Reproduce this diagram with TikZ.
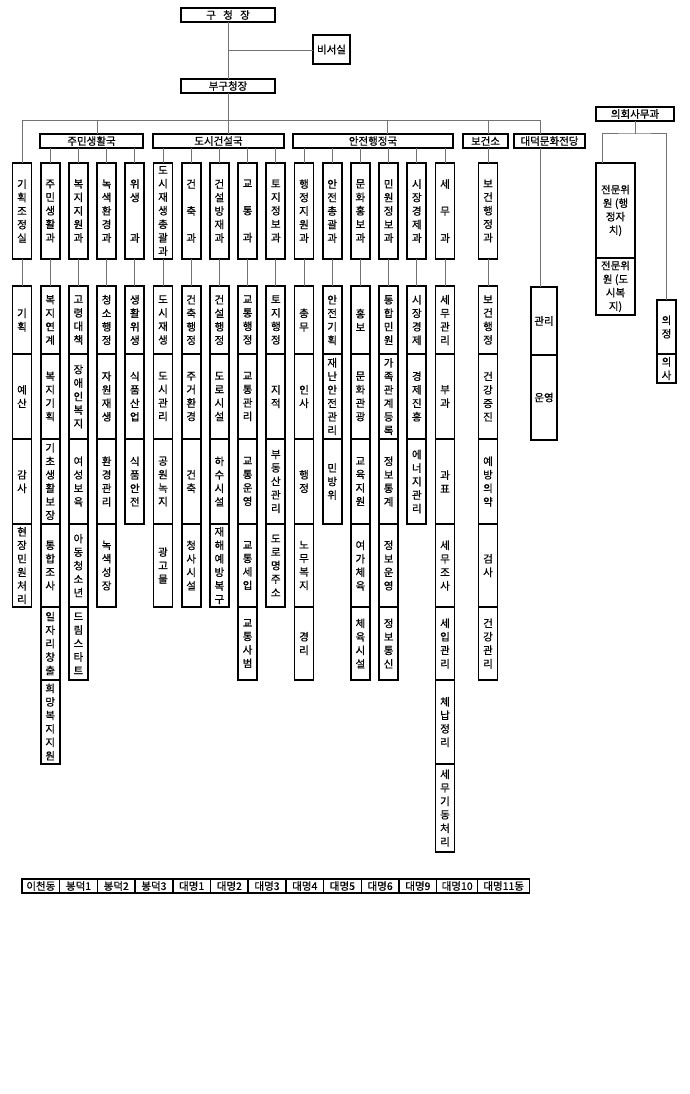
\documentclass[tikz,border=0pt]{standalone}
\usepackage{fontspec}
\newfontfamily\kr[FakeBold=0.7]{Noto Sans CJK KR}
\usetikzlibrary{positioning}
\tikzset{
  headbox/.style={draw, line width=1.7pt, fill=white, minimum height=14pt,
                  inner sep=0pt, outer sep=0pt, font=\kr\fontsize{10.5}{11}\selectfont},
  dept/.style={draw, line width=1.7pt, fill=white, minimum width=19pt, minimum height=96pt,
               anchor=north, inner sep=0pt, outer sep=0pt, align=center,
               font=\kr\fontsize{10.5}{13.5}\selectfont},
  team/.style={dept, minimum height=68pt},
  r2/.style={minimum height=85pt},
  r3/.style={minimum height=85pt},
  r4/.style={minimum height=83pt},
  r5/.style={minimum height=73pt},
  r6/.style={minimum height=84pt},
  r7/.style={minimum height=88pt},
  dong/.style={draw, line width=1.5pt, fill=white, minimum width=37.7pt, minimum height=14pt,
               inner sep=0pt, outer sep=0pt, font=\kr\fontsize{10.5}{11}\selectfont},
  conn/.style={draw=black!55, line width=1pt},
}
\begin{document}
\begin{tikzpicture}[x=1pt, y=-1pt]
  \path[use as bounding box, fill=white] (0,0) rectangle (690,1094);

  % top
  \node[headbox, minimum width=94pt] (chief) at (228,15) {구\hspace{0.7em}청\hspace{0.7em}장};
  \node[headbox, minimum width=37pt, minimum height=29pt] (secr) at (331.5,49.5) {비서실};
  \node[headbox, minimum width=94pt] (vice) at (228,86) {부구청장};
  \coordinate (secj) at (228,51);
  \draw[conn] (chief) -- (vice);
  \draw[conn] (secj) -- (secj -| secr.west);

  % bureaus
  \node[headbox, minimum width=103pt] (jumin) at (91.5,141) {주민생활국};
  \node[headbox, minimum width=131pt] (dosi) at (218.5,141) {도시건설국};
  \node[headbox, minimum width=160pt] (anjeon) at (373,141) {안전행정국};
  \node[headbox, minimum width=45pt] (bogeon) at (485.5,141) {보건소};
  \node[headbox, minimum width=71pt] (daedeok) at (549.5,141) {대덕문화전당};
  \node[headbox, minimum width=78pt] (uihoe) at (635,114) {의회사무과};

  % departments
  \node[dept] (d1) at (22,163) {기\\획\\조\\정\\실};
  \node[dept] (d2) at (50.2,163) {주\\민\\생\\활\\과};
  \node[dept] (d3) at (78.4,163) {복\\지\\지\\원\\과};
  \node[dept] (d4) at (106.6,163) {녹\\색\\환\\경\\과};
  \node[dept] (d5) at (134.8,163) {위\\생\\~\\~\\과};
  \node[dept] (d6) at (163,163) {도\\시\\재\\생\\총\\괄\\과};
  \node[dept] (d7) at (191.2,163) {건\\~\\축\\~\\과};
  \node[dept] (d8) at (219.4,163) {건\\설\\방\\재\\과};
  \node[dept] (d9) at (247.6,163) {교\\~\\통\\~\\과};
  \node[dept] (d10) at (275.8,163) {토\\지\\정\\보\\과};
  \node[dept] (d11) at (304,163) {행\\정\\지\\원\\과};
  \node[dept] (d12) at (332.2,163) {안\\전\\총\\괄\\과};
  \node[dept] (d13) at (360.4,163) {문\\화\\홍\\보\\과};
  \node[dept] (d14) at (388.6,163) {민\\원\\정\\보\\과};
  \node[dept] (d15) at (416.8,163) {시\\장\\경\\제\\과};
  \node[dept] (d16) at (445,163) {세\\~\\무\\~\\과};
  \node[dept] (d17) at (488,163) {보\\건\\행\\정\\과};

  % council office
  \node[dept, minimum width=39pt, minimum height=95pt] (jm1) at (615.5,163) {전문위\\원 (행\\정자\\치)};
  \node[dept, minimum width=39pt, minimum height=57pt, below=0pt of jm1] (jm2) {전문위\\원 (도\\시복\\지)};
  \node[dept, minimum height=54pt] (uijeong) at (666.5,300) {의\\정};
  \node[dept, minimum height=29pt, below=0pt of uijeong] (uisa) {의\\사};

  % teams
  \node[team] (t1a) at (22,286) {기\\획};
  \node[team, r2, below=0pt of t1a] (t1b) {예\\산};
  \node[team, r3, below=0pt of t1b] (t1c) {감\\사};
  \node[team, r4, below=0pt of t1c] (t1d) {현\\장\\민\\원\\처\\리};

  \node[team] (t2a) at (50.2,286) {복\\지\\연\\계};
  \node[team, r2, below=0pt of t2a] (t2b) {복\\지\\기\\획};
  \node[team, r3, below=0pt of t2b] (t2c) {기\\초\\생\\활\\보\\장};
  \node[team, r4, below=0pt of t2c] (t2d) {통\\합\\조\\사};
  \node[team, r5, below=0pt of t2d] (t2e) {일\\자\\리\\창\\출};
  \node[team, r6, below=0pt of t2e] (t2f) {희\\망\\복\\지\\지\\원};

  \node[team] (t3a) at (78.4,286) {고\\령\\대\\책};
  \node[team, r2, below=0pt of t3a] (t3b) {장\\애\\인\\복\\지};
  \node[team, r3, below=0pt of t3b] (t3c) {여\\성\\보\\육};
  \node[team, r4, below=0pt of t3c] (t3d) {아\\동\\청\\소\\년};
  \node[team, r5, below=0pt of t3d] (t3e) {드\\림\\스\\타\\트};

  \node[team] (t4a) at (106.6,286) {청\\소\\행\\정};
  \node[team, r2, below=0pt of t4a] (t4b) {자\\원\\재\\생};
  \node[team, r3, below=0pt of t4b] (t4c) {환\\경\\관\\리};
  \node[team, r4, below=0pt of t4c] (t4d) {녹\\색\\성\\장};

  \node[team] (t5a) at (134.8,286) {생\\활\\위\\생};
  \node[team, r2, below=0pt of t5a] (t5b) {식\\품\\산\\업};
  \node[team, r3, below=0pt of t5b] (t5c) {식\\품\\안\\전};

  \node[team] (t6a) at (163,286) {도\\시\\재\\생};
  \node[team, r2, below=0pt of t6a] (t6b) {도\\시\\관\\리};
  \node[team, r3, below=0pt of t6b] (t6c) {공\\원\\녹\\지};
  \node[team, r4, below=0pt of t6c] (t6d) {광\\고\\물};

  \node[team] (t7a) at (191.2,286) {건\\축\\행\\정};
  \node[team, r2, below=0pt of t7a] (t7b) {주\\거\\환\\경};
  \node[team, r3, below=0pt of t7b] (t7c) {건\\축};
  \node[team, r4, below=0pt of t7c] (t7d) {청\\사\\시\\설};

  \node[team] (t8a) at (219.4,286) {건\\설\\행\\정};
  \node[team, r2, below=0pt of t8a] (t8b) {도\\로\\시\\설};
  \node[team, r3, below=0pt of t8b] (t8c) {하\\수\\시\\설};
  \node[team, r4, below=0pt of t8c] (t8d) {재\\해\\예\\방\\복\\구};

  \node[team] (t9a) at (247.6,286) {교\\통\\행\\정};
  \node[team, r2, below=0pt of t9a] (t9b) {교\\통\\관\\리};
  \node[team, r3, below=0pt of t9b] (t9c) {교\\통\\운\\영};
  \node[team, r4, below=0pt of t9c] (t9d) {교\\통\\세\\입};
  \node[team, r5, below=0pt of t9d] (t9e) {교\\통\\사\\범};

  \node[team] (t10a) at (275.8,286) {토\\지\\행\\정};
  \node[team, r2, below=0pt of t10a] (t10b) {지\\적};
  \node[team, r3, below=0pt of t10b] (t10c) {부\\동\\산\\관\\리};
  \node[team, r4, below=0pt of t10c] (t10d) {도\\로\\명\\주\\소};

  \node[team] (t11a) at (304,286) {총\\무};
  \node[team, r2, below=0pt of t11a] (t11b) {인\\사};
  \node[team, r3, below=0pt of t11b] (t11c) {행\\정};
  \node[team, r4, below=0pt of t11c] (t11d) {노\\무\\복\\지};
  \node[team, r5, below=0pt of t11d] (t11e) {경\\리};

  \node[team] (t12a) at (332.2,286) {안\\전\\기\\획};
  \node[team, r2, below=0pt of t12a] (t12b) {재\\난\\안\\전\\관\\리};
  \node[team, r3, below=0pt of t12b] (t12c) {민\\방\\위};

  \node[team] (t13a) at (360.4,286) {홍\\보};
  \node[team, r2, below=0pt of t13a] (t13b) {문\\화\\관\\광};
  \node[team, r3, below=0pt of t13b] (t13c) {교\\육\\지\\원};
  \node[team, r4, below=0pt of t13c] (t13d) {여\\가\\체\\육};
  \node[team, r5, below=0pt of t13d] (t13e) {체\\육\\시\\설};

  \node[team] (t14a) at (388.6,286) {통\\합\\민\\원};
  \node[team, r2, below=0pt of t14a] (t14b) {가\\족\\관\\계\\등\\록};
  \node[team, r3, below=0pt of t14b] (t14c) {정\\보\\통\\계};
  \node[team, r4, below=0pt of t14c] (t14d) {정\\보\\운\\영};
  \node[team, r5, below=0pt of t14d] (t14e) {정\\보\\통\\신};

  \node[team] (t15a) at (416.8,286) {시\\장\\경\\제};
  \node[team, r2, below=0pt of t15a] (t15b) {경\\제\\진\\흥};
  \node[team, r3, below=0pt of t15b] (t15c) {에\\너\\지\\관\\리};

  \node[team] (t16a) at (445,286) {세\\무\\관\\리};
  \node[team, r2, below=0pt of t16a] (t16b) {부\\과};
  \node[team, r3, below=0pt of t16b] (t16c) {과\\표};
  \node[team, r4, below=0pt of t16c] (t16d) {세\\무\\조\\사};
  \node[team, r5, below=0pt of t16d] (t16e) {세\\입\\관\\리};
  \node[team, r6, below=0pt of t16e] (t16f) {체\\납\\정\\리};
  \node[team, r7, below=0pt of t16f] (t16g) {세\\무\\기\\동\\처\\리};

  \node[team] (t17a) at (488,286) {보\\건\\행\\정};
  \node[team, r2, below=0pt of t17a] (t17b) {건\\강\\증\\진};
  \node[team, r3, below=0pt of t17b] (t17c) {예\\방\\의\\약};
  \node[team, r4, below=0pt of t17c] (t17d) {검\\사};
  \node[team, r5, below=0pt of t17d] (t17e) {건\\강\\관\\리};

  \node[team, minimum width=26pt] (gwanri) at (544,287) {관리};
  \node[team, r2, minimum width=26pt, below=0pt of gwanri] (unyeong) {운영};

  % dong offices
  \node[dong, anchor=north west] (dong1) at (22,879) {이천동};
  \node[dong, right=0pt of dong1] (dong2) {봉덕1};
  \node[dong, right=0pt of dong2] (dong3) {봉덕2};
  \node[dong, right=0pt of dong3] (dong4) {봉덕3};
  \node[dong, right=0pt of dong4] (dong5) {대명1};
  \node[dong, right=0pt of dong5] (dong6) {대명2};
  \node[dong, right=0pt of dong6] (dong7) {대명3};
  \node[dong, right=0pt of dong7] (dong8) {대명4};
  \node[dong, right=0pt of dong8] (dong9) {대명5};
  \node[dong, right=0pt of dong9] (dong10) {대명6};
  \node[dong, right=0pt of dong10] (dong11) {대명9};
  \node[dong, minimum width=41pt, right=0pt of dong11] (dong12) {대명10};
  \node[dong, minimum width=52pt, right=0pt of dong12] (dong13) {대명11동};

  % main bus
  \coordinate (busL) at (22,121);
  \coordinate (busR) at (540,121);
  \draw[conn] (vice) -- (vice |- dosi.north);
  \draw[conn] (d1) |- (busR) -- (busR |- daedeok.north);
  \draw[conn] (busR |- daedeok.south) -- (busR |- gwanri.north);
  \draw[conn] ([xshift=5.5pt]jumin.north) -- ([xshift=5.5pt]jumin.north |- busL);
  \draw[conn] ([xshift=14pt]anjeon.north) -- ([xshift=14pt]anjeon.north |- busL);
  \draw[conn] (d17.north |- busL) -- (d17.north |- bogeon.north);
  \draw[conn] (d17.north |- bogeon.south) -- (d17);

  % bureau to departments
  \foreach \d in {d2,d3,d4,d5} \draw[conn] (\d) -- (\d |- jumin.south);
  \foreach \d in {d6,d7,d8,d9,d10} \draw[conn] (\d) -- (\d |- dosi.south);
  \foreach \d in {d11,d12,d13,d14,d15,d16} \draw[conn] (\d) -- (\d |- anjeon.south);

  % departments to teams
  \foreach \n in {1,...,17} \draw[conn] (d\n) -- (t\n a);

  % council
  \coordinate (uj) at (635,134);
  \draw[conn] (uihoe) -- (uj);
  \draw[conn] ([xshift=-13.5pt]jm1.north) |- (uj) -| (uijeong);
\end{tikzpicture}
\end{document}
